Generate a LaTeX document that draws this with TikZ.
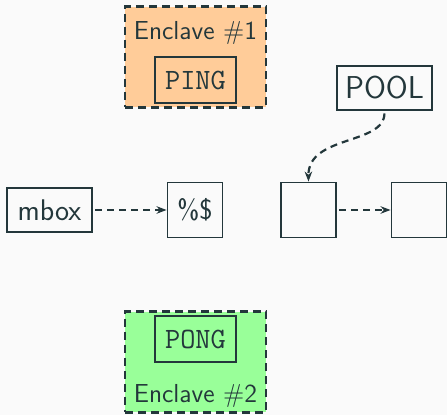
\documentclass[tikz,border=0pt]{standalone}
\usepackage{tikz}
\usetikzlibrary{arrows.meta}
\renewcommand{\familydefault}{\sfdefault}
\definecolor{bgcol}{HTML}{FAFAFA}
\definecolor{ink}{HTML}{23373B}
\definecolor{orangefill}{HTML}{FFCC99}
\definecolor{greenfill}{HTML}{99FF99}
\tikzstyle{enclave} = [draw=ink,line width=1.6pt,dash pattern=on 0.16cm off 0.1cm,minimum width=2.82cm,minimum height=2.02cm]
\tikzstyle{prog} = [draw=ink,line width=1.1pt,font=\ttfamily\fontsize{16.8}{18}\selectfont,minimum width=1.62cm,minimum height=0.92cm,inner sep=0pt]
\tikzstyle{box} = [draw=ink,line width=1.1pt,fill=bgcol,minimum height=0.88cm,inner sep=0pt]
\tikzstyle{slot} = [draw=ink,line width=1.1pt,fill=bgcol,minimum size=1.1cm,inner sep=0pt]
\tikzstyle{flow} = [ink,line width=1.25pt,dash pattern=on 0.14cm off 0.1cm,->,shorten <=0.05cm]

\begin{document}
\begin{tikzpicture}[>={Stealth[length=0.2cm,width=0.15cm]},x=0.02cm,y=-0.02cm,color=ink]

% Background and page size
    \fill[bgcol] (0,0) rectangle (447,415);
    \useasboundingbox (0,0) rectangle (447,415);

% Enclaves with their programs
    \node[enclave,fill=orangefill] at (195.5,57) (enc1) {};
    \node[anchor=base,font=\fontsize{14.8}{16}\selectfont] at (195.5,40) (enc1label) {Enclave \#1};
    \node[prog] at (195.5,80) (ping) {PING};
    \node[enclave,fill=greenfill] at (195.5,362) (enc2) {};
    \node[anchor=base,font=\fontsize{14.8}{16}\selectfont] at (195.5,403) (enc2label) {Enclave \#2};
    \node[prog] at (195.5,339) (pong) {PONG};

% Mailbox, pool and slots
    \node[box,minimum width=1.7cm,font=\fontsize{17}{19}\selectfont] at (49.5,210) (mbox) {mbox};
    \node[slot,font=\fontsize{16}{18}\selectfont] at (195,210) (head) {\%\$};
    \node[box,minimum width=1.9cm,font=\fontsize{18}{20}\selectfont] at (384.5,88) (pool) {POOL};
    \node[slot] at (308.5,210) (slot1) {};
    \node[slot] at (419,210) (slot2) {};

    % join up
    \draw[flow] (mbox) -- (head);
    \draw[flow] (slot1) -- (slot2);
    \draw[flow] (pool.south) .. controls (384,145) and (308,135) .. (slot1.north);

\end{tikzpicture}
\end{document}
